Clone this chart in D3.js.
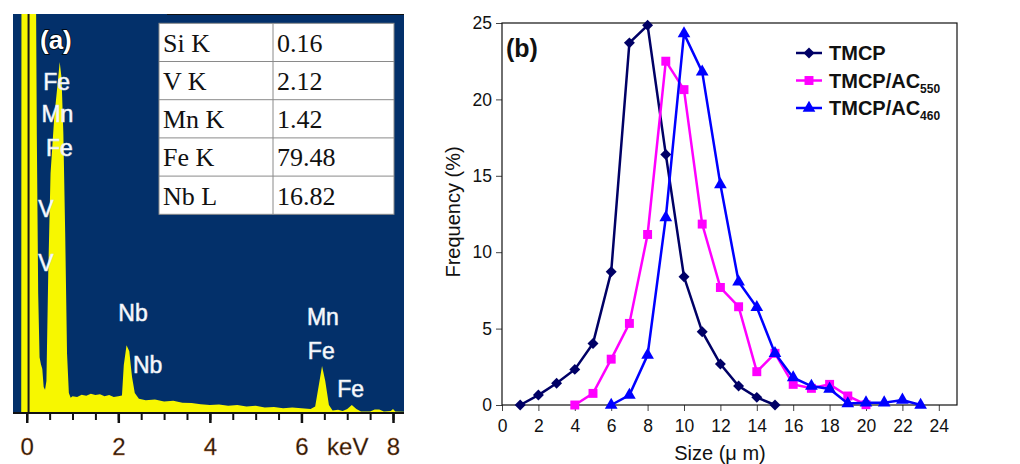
<!DOCTYPE html>
<html>
<head>
<meta charset="utf-8">
<script src="https://cdn.jsdelivr.net/npm/d3@7"></script>
<style>
  body { margin: 0; background: #fff; }
  svg { display: block; }
</style>
</head>
<body>
<div id="chart-area"></div>
<script>
// ---- panel (a): EDS spectrum ----
const specKeV = [-0.12, -0.115, 0.2, 0.22, 0.25, 0.28, 0.31, 0.34, 0.37, 0.4, 0.43, 0.47, 0.52, 0.6, 0.67, 0.72, 0.76, 0.8, 0.84, 0.88, 0.92, 0.96,
  1.0, 1.1, 1.2, 1.3, 1.4, 1.5, 1.6, 1.7, 1.8, 1.9, 2.0, 2.08, 2.12, 2.18, 2.24, 2.3, 2.36, 2.45, 2.6, 2.8, 3.0, 3.2, 3.4, 3.6, 3.8,
  4.0, 4.2, 4.4, 4.6, 4.8, 5.0, 5.2, 5.4, 5.6, 5.8, 6.0, 6.2, 6.3, 6.38, 6.45, 6.52, 6.6, 6.68, 6.8, 6.9, 7.0, 7.1, 7.2, 7.3,
  7.5, 7.6, 7.7, 7.8, 7.95, 8.0, 8.05, 8.24];
const specCounts = [0, 110, 110, 70, 30, 14, 12.2, 11, 6.5, 5.8, 8, 35, 60, 74, 82, 88, 84, 70, 45, 15, 5, 3.8,
  4.2, 4.0, 4.6, 4.3, 4.8, 4.5, 4.7, 4.2, 4.5, 4.0, 4.2, 4.4, 12, 17, 15.5, 9, 5, 3.6, 3.2, 3.4, 2.9, 3.1, 2.6, 2.5, 2.2,
  2.0, 2.1, 1.8, 2.0, 1.6, 1.8, 1.4, 1.5, 1.2, 1.4, 1.2, 1.0, 1.6, 7, 11.8, 8, 2, 0.6, 0.8, 0.5, 1.0, 2.0, 1.0, 0.4,
  0.4, 0.9, 0.9, 0.4, 0.5, 1.0, 0.4, 0.3];
const peakLabels = ["Fe", "Mn", "Fe", "V", "V", "Nb", "Nb", "Mn", "Fe", "Fe"];
const peakLabelKeV = [0.36, 0.32, 0.42, 0.25, 0.25, 2.0, 2.32, 6.12, 6.14, 6.78];
const peakLabelLevel = [81, 73, 64.5, 49, 35.5, 23, 10, 22, 13.5, 4];
const keVTicks = [0, 2, 4, 6, 7, 8];
const keVTickLabels = ["0", "2", "4", "6", "keV", "8"];
const tableElements = ["Si K", "V K", "Mn K", "Fe K", "Nb L"];
const tableValues = ["0.16", "2.12", "1.42", "79.48", "16.82"];

// ---- panel (b): grain size distribution ----
const sizesTMCP = [1, 2, 3, 4, 5, 6, 7, 8, 9, 10, 11, 12, 13, 14, 15];
const freqTMCP = [0, 0.65, 1.42, 2.33, 4.03, 8.72, 23.7, 24.85, 16.4, 8.39, 4.8, 2.68, 1.24, 0.5, 0];
const sizesAC550 = [4, 5, 6, 7, 8, 9, 10, 11, 12, 13, 14, 15, 16, 17, 18, 19, 20];
const freqAC550 = [0, 0.76, 3.0, 5.34, 11.16, 22.5, 20.64, 11.84, 7.69, 6.43, 2.18, 3.38, 1.35, 1.09, 1.35, 0.59, 0.02];
const sizesAC460 = [6, 7, 8, 9, 10, 11, 12, 13, 14, 15, 16, 17, 18, 19, 20, 21, 22, 23];
const freqAC460 = [0, 0.65, 3.27, 12.27, 24.3, 21.8, 14.43, 8.06, 6.39, 3.38, 1.79, 1.24, 1.05, 0.1, 0.15, 0.15, 0.33, 0];
const seriesNames = ["TMCP", "TMCP/AC", "TMCP/AC"];
const seriesSubs = ["", "550", "460"];
const sizeTicks = [0, 2, 4, 6, 8, 10, 12, 14, 16, 18, 20, 22, 24];
const freqTicks = [0, 5, 10, 15, 20, 25];

const svg = d3.select("#chart-area").append("svg")
    .attr("width", 1020)
    .attr("height", 464);

// ===== panel (a) =====
const xa = d3.scaleLinear().domain([-0.3, 8.24]).range([13, 404]);
const ya = d3.scaleLinear().domain([0, 100]).range([413, 14]);

svg.append("clipPath").attr("id", "clipA")
  .append("rect").attr("x", 13).attr("y", 14).attr("width", 391).attr("height", 399);

svg.append("rect")
    .attr("x", 13).attr("y", 14).attr("width", 391).attr("height", 399)
    .attr("fill", "#03306a");
svg.append("line")
    .attr("x1", 167).attr("x2", 404).attr("y1", 14.5).attr("y2", 14.5)
    .attr("stroke", "#111").attr("stroke-width", 1);

const spec = specKeV.map((k, i) => [k, specCounts[i]]);
svg.append("path")
    .datum(spec)
    .attr("clip-path", "url(#clipA)")
    .attr("fill", "#f7f700")
    .attr("d", d3.area().x(d => xa(d[0])).y0(ya(0)).y1(d => ya(d[1])));

// vertical zero line
svg.append("line")
    .attr("x1", xa(0.04)).attr("x2", xa(0.04)).attr("y1", 14).attr("y2", 413)
    .attr("stroke", "#1a1a1a").attr("stroke-width", 2);

// table
const tx = 159, tcol = 273, tw = 235, rowH = 38.2, ty = 23.3;
const table = svg.append("g");
table.append("rect")
    .attr("x", tx).attr("y", ty).attr("width", tw).attr("height", rowH * 5)
    .attr("fill", "#fff").attr("stroke", "#8a8a8a").attr("stroke-width", 1);
table.selectAll("line.row").data(d3.range(1, 5)).enter().append("line")
    .attr("x1", tx).attr("x2", tx + tw)
    .attr("y1", i => ty + i * rowH).attr("y2", i => ty + i * rowH)
    .attr("stroke", "#8a8a8a");
table.append("line")
    .attr("x1", tcol).attr("x2", tcol).attr("y1", ty).attr("y2", ty + rowH * 5)
    .attr("stroke", "#8a8a8a");
table.selectAll("text.el").data(tableElements).enter().append("text")
    .attr("x", tx + 4).attr("y", (d, i) => ty + i * rowH + 28.5)
    .attr("font-family", "Liberation Serif, Times New Roman, serif")
    .attr("font-size", 26).attr("fill", "#111")
    .text(d => d);
table.selectAll("text.val").data(tableValues).enter().append("text")
    .attr("x", tcol + 4).attr("y", (d, i) => ty + i * rowH + 28.5)
    .attr("font-family", "Liberation Serif, Times New Roman, serif")
    .attr("font-size", 26).attr("fill", "#111")
    .text(d => d);

// peak labels
svg.selectAll("text.peak").data(peakLabels).enter().append("text")
    .attr("x", (d, i) => xa(peakLabelKeV[i]))
    .attr("y", (d, i) => ya(peakLabelLevel[i]))
    .attr("font-family", "Liberation Sans, Arial, sans-serif")
    .attr("font-size", 23)
    .attr("fill", "#fff")
    .attr("stroke", "#dfe6f2").attr("stroke-width", 0.6)
    .text(d => d);

svg.append("text")
    .attr("x", 40).attr("y", 49)
    .attr("font-family", "Liberation Sans, Arial, sans-serif")
    .attr("font-size", 26).attr("font-weight", "bold")
    .attr("fill", "#fff").attr("stroke", "#000").attr("stroke-width", 1.5)
    .attr("paint-order", "stroke")
    .text("(a)");

// energy axis
const axA = svg.append("g").attr("transform", "translate(0,413)");
axA.append("line").attr("x1", 13).attr("x2", 404).attr("stroke", "#111").attr("stroke-width", 2);
axA.append("g")
    .call(d3.axisBottom(xa).tickValues(d3.range(0, 8.01, 0.5)).tickSize(7).tickFormat(""))
    .call(g => g.select(".domain").remove())
    .call(g => g.selectAll("line").attr("stroke", "#111").attr("stroke-width", 2));
axA.append("g")
    .call(d3.axisBottom(xa).tickValues([0, 2, 4, 6, 8]).tickSize(10).tickFormat(""))
    .call(g => g.select(".domain").remove())
    .call(g => g.selectAll("line").attr("stroke", "#111").attr("stroke-width", 2.5));
axA.append("g")
    .call(d3.axisBottom(xa).tickValues(keVTicks).tickSize(0)
      .tickFormat((d, i) => keVTickLabels[i]))
    .call(g => g.select(".domain").remove())
    .call(g => g.selectAll("text")
      .attr("y", 42).attr("dy", 0)
      .attr("font-family", "Liberation Sans, Arial, sans-serif")
      .attr("font-size", 24).attr("fill", "#24180f")
      .attr("stroke", "#c8702a").attr("stroke-width", 0.3));

// ===== panel (b) =====
const xb = d3.scaleLinear().domain([0, 25]).range([502, 957]);
const yb = d3.scaleLinear().domain([0, 25]).range([405, 23]);
const font = "Liberation Sans, Arial, sans-serif";

svg.append("g").attr("transform", "translate(0,405)")
    .call(d3.axisBottom(xb).tickValues(sizeTicks).tickSize(6).tickPadding(9))
    .call(g => g.select(".domain").remove())
    .call(g => g.selectAll("line").attr("stroke", "#444"))
    .call(g => g.selectAll("text").attr("font-family", font).attr("font-size", 17.5).attr("fill", "#111"));

svg.append("g").attr("transform", "translate(502,0)")
    .call(d3.axisLeft(yb).tickValues(freqTicks).tickSize(6).tickPadding(4))
    .call(g => g.select(".domain").remove())
    .call(g => g.selectAll("line").attr("stroke", "#444"))
    .call(g => g.selectAll("text").attr("font-family", font).attr("font-size", 17.5).attr("fill", "#111"));

svg.append("rect")
    .attr("x", 502).attr("y", 23).attr("width", 455).attr("height", 382)
    .attr("fill", "none").attr("stroke", "#111").attr("stroke-width", 1.2);

svg.append("text")
    .attr("x", 720).attr("y", 460).attr("text-anchor", "middle")
    .attr("font-family", font).attr("font-size", 20).attr("fill", "#111")
    .text("Size (\u03bc m)");
svg.append("text")
    .attr("transform", "translate(460,212) rotate(-90)").attr("text-anchor", "middle")
    .attr("font-family", font).attr("font-size", 20).attr("fill", "#111")
    .text("Frequency (%)");

svg.append("text")
    .attr("x", 506).attr("y", 57)
    .attr("font-family", font).attr("font-size", 25).attr("font-weight", "bold").attr("fill", "#111")
    .text("(b)");

// diamond = square turned 45 degrees
const series = [
  { xs: sizesTMCP, ys: freqTMCP, color: "#000066", sym: d3.symbolSquare, size: 60, rot: 45 },
  { xs: sizesAC550, ys: freqAC550, color: "#ff00ff", sym: d3.symbolSquare, size: 80, rot: 0 },
  { xs: sizesAC460, ys: freqAC460, color: "#0000ff", sym: d3.symbolTriangle, size: 70, rot: 0 }
];
const line = d3.line().x(d => xb(d[0])).y(d => yb(d[1]));

series.forEach(s => {
  const pts = s.xs.map((x, i) => [x, s.ys[i]]);
  svg.append("path").datum(pts)
      .attr("fill", "none").attr("stroke", s.color).attr("stroke-width", 2.5)
      .attr("d", line);
  svg.selectAll(null).data(pts).enter().append("path")
      .attr("transform", d => `translate(${xb(d[0])},${yb(d[1])}) rotate(${s.rot})`)
      .attr("d", d3.symbol().type(s.sym).size(s.size))
      .attr("fill", s.color);
});

// legend
const legendY = [53, 80.5, 108];
series.forEach((s, i) => {
  const g = svg.append("g").attr("transform", `translate(796,${legendY[i]})`);
  g.append("line").attr("x1", 0).attr("x2", 26).attr("stroke", s.color).attr("stroke-width", 2.5);
  g.append("path").attr("transform", `translate(13,0) rotate(${s.rot})`)
      .attr("d", d3.symbol().type(s.sym).size(s.size)).attr("fill", s.color);
  const t = g.append("text").attr("x", 33).attr("y", 7)
      .attr("font-family", font).attr("font-size", 20).attr("font-weight", "bold").attr("fill", "#111")
      .text(seriesNames[i]);
  if (seriesSubs[i]) {
    t.append("tspan").attr("font-size", 12).attr("dy", 5).text(seriesSubs[i]);
  }
});
</script>
</body>
</html>
